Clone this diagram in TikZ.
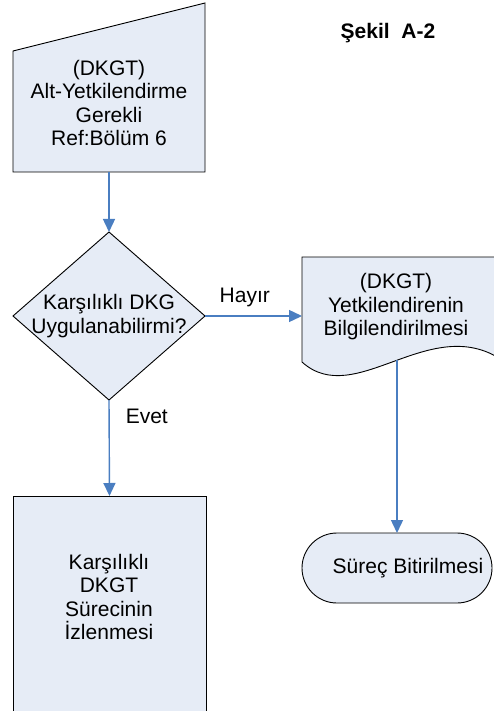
\documentclass[tikz,border=0pt]{standalone}
\usepackage{fontspec}
\setmainfont{Liberation Sans}
\usetikzlibrary{arrows.meta,shapes.geometric,shapes.misc}
\definecolor{kutu}{RGB}{230,236,246}
\definecolor{okmavi}{RGB}{74,126,193}

\begin{document}
\begin{tikzpicture}[x=1pt,y=-1pt,
    yazi/.style={font=\fontsize{21}{23.5}\selectfont,align=center,inner sep=0pt},
    sekil/.style={draw=black,fill=kutu,line width=0.9pt},
    bos/.style={inner sep=0pt,outer sep=0pt},
    baglanti/.style={draw=okmavi,line width=1.4pt,-{Triangle[length=13pt,width=12pt]}}]
        \useasboundingbox (0,0) rectangle (493,711);
        \node[bos,minimum width=192pt,minimum height=169pt] (ref) at (109,87.5) {};
        \draw[sekil] (ref.south west) -- (ref.south east) -- (ref.north east) -- ([yshift=-48pt]ref.north west) -- cycle;
        \node[sekil,bos,diamond,minimum width=192pt,minimum height=168pt] (karar) at (109,316) {};
        \node[bos,minimum width=200pt,minimum height=103pt] (bilgi) at (402,308.5) {};
        \draw[sekil] (bilgi.south west) -- (bilgi.north west) -- (bilgi.north east) -- (bilgi.south east)
            .. controls (430,312) and (355,410) .. (302,362) -- cycle;
        \node[sekil,bos,rounded rectangle,minimum width=190pt,minimum height=70pt] (bitis) at (397,568) {};
        \node[sekil,bos,minimum width=193pt,minimum height=240pt,anchor=north] (izleme) at (109.5,496) {};
        \node[yazi] (reftxt) at (109,103) {(DKGT)\\Alt-Yetkilendirme\\Gerekli\\Ref:Bölüm 6};
        \node[yazi] (karartxt) at (109,316) {Karşılıklı DKG\\Uygulanabilirmi?};
        \node[yazi] (bilgitxt) at (396,307) {(DKGT)\\Yetkilendirenin\\Bilgilendirilmesi};
        \node[yazi] (izlemetxt) at (109,597) {Karşılıklı\\DKGT\\Sürecinin\\İzlenmesi};
        \node[yazi] (bitistxt) at (408,568) {Süreç Bitirilmesi};
        \node[yazi,font=\bfseries\fontsize{21}{23.5}\selectfont] (baslik) at (388,33) {Şekil\ \ A-2};
        \draw[baglanti] (ref.south) -- (karar.north);
        \draw[baglanti] (karar.east) -- (karar.east -| bilgi.west) node[yazi,pos=.41,above=8pt] (hayir) {Hayır};
        \draw[baglanti] (karar.south) -- (izleme.north) node[yazi,pos=.17,right=16pt] (evet) {Evet};
        \draw[baglanti] (bilgi.south -| bitis.north) -- (bitis.north);
    \end{tikzpicture}
\end{document}
